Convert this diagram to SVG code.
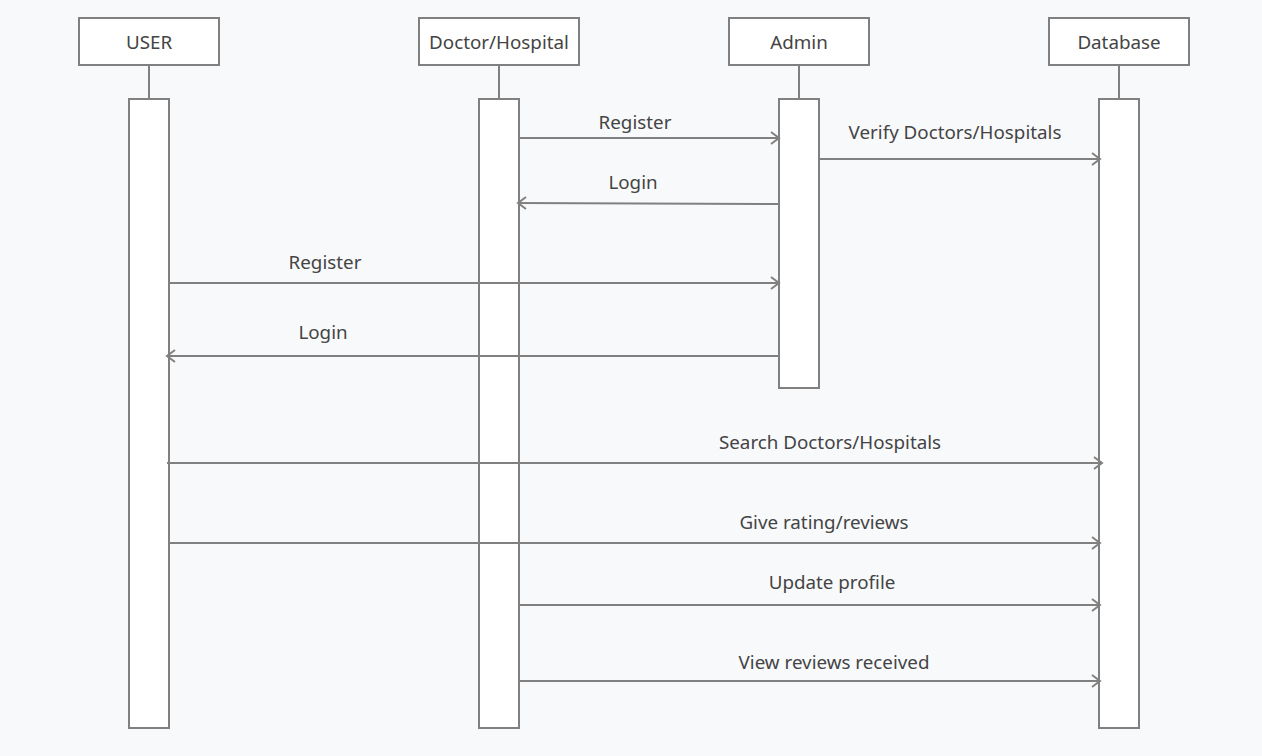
<svg xmlns="http://www.w3.org/2000/svg" width="1262" height="756" viewBox="0 0 1262 756">
<style>
.box{fill:#ffffff;stroke:#808080;stroke-width:2}
.ln{stroke:#808080;stroke-width:2;fill:none}
.msg{stroke:#808080;stroke-width:2;fill:none;marker-end:url(#arr)}
text{font-family:"Noto Sans","Open Sans",sans-serif;font-size:18.8px;fill:#444444;text-anchor:middle}
</style>
<defs>
<marker id="arr" markerWidth="12" markerHeight="14" refX="10" refY="7" orient="auto" markerUnits="userSpaceOnUse">
<path d="M2,1 L10,7 L2,13" fill="none" stroke="#808080" stroke-width="2"/>
</marker>
</defs>
<rect width="1262" height="756" fill="#f8f9fb"/>
<g id="user">
<rect class="box" x="79" y="18" width="140" height="47"/>
<text x="149" y="49">USER</text>
<line class="ln" x1="149" y1="65" x2="149" y2="99"/>
<rect class="box" x="129" y="99" width="40" height="629"/>
</g>
<g id="doctor">
<rect class="box" x="419" y="18" width="160" height="47"/>
<text x="499" y="49">Doctor/Hospital</text>
<line class="ln" x1="499" y1="65" x2="499" y2="99"/>
<rect class="box" x="479" y="99" width="40" height="629"/>
</g>
<g id="admin">
<rect class="box" x="729" y="18" width="140" height="47"/>
<text x="799" y="49">Admin</text>
<line class="ln" x1="799" y1="65" x2="799" y2="99"/>
<rect class="box" x="779" y="99" width="40" height="289"/>
</g>
<g id="database">
<rect class="box" x="1049" y="18" width="140" height="47"/>
<text x="1119" y="49">Database</text>
<line class="ln" x1="1119" y1="65" x2="1119" y2="99"/>
<rect class="box" x="1099" y="99" width="40" height="629"/>
</g>
<g id="connectors">
<line class="msg" x1="519" y1="138" x2="779" y2="138"/>
<text x="635" y="129">Register</text>
<line class="msg" x1="819" y1="159" x2="1100" y2="159"/>
<text x="955" y="139">Verify Doctors/Hospitals</text>
<line class="msg" x1="779" y1="204" x2="518" y2="203"/>
<text x="633" y="189">Login</text>
<line class="msg" x1="169" y1="283" x2="779" y2="283"/>
<text x="325" y="269">Register</text>
<line class="msg" x1="779" y1="356" x2="167" y2="356"/>
<text x="323" y="339">Login</text>
<line class="msg" x1="167" y1="463" x2="1102" y2="463"/>
<text x="830" y="449">Search Doctors/Hospitals</text>
<line class="msg" x1="169" y1="543" x2="1100" y2="543"/>
<text x="824" y="529">Give rating/reviews</text>
<line class="msg" x1="519" y1="605" x2="1100" y2="605"/>
<text x="832" y="589">Update profile</text>
<line class="msg" x1="519" y1="681" x2="1100" y2="681"/>
<text x="834" y="669">View reviews received</text>
</g>
</svg>
